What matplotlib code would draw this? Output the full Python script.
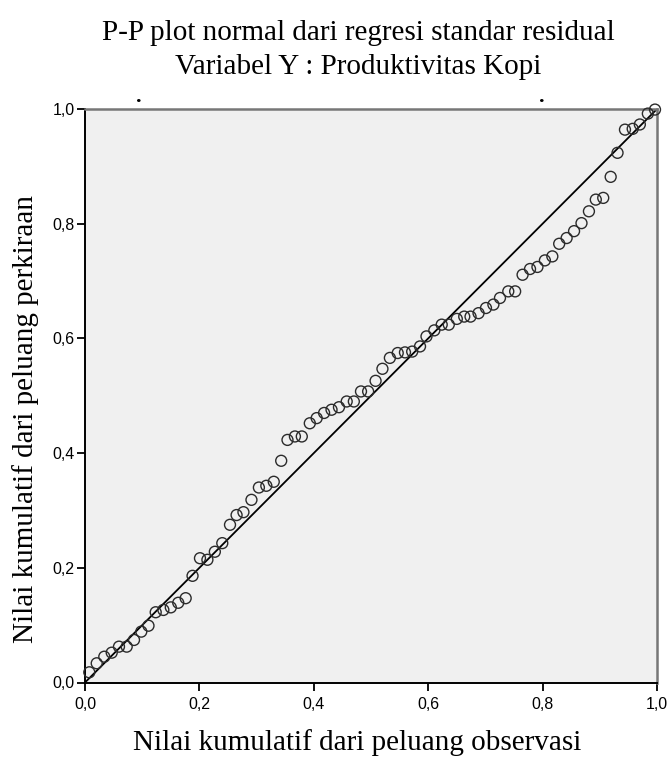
import matplotlib
matplotlib.use("Agg")
import matplotlib.pyplot as plt

# P-P plot: nilai kumulatif observasi (x) vs perkiraan (y)
obs_prob = [0.0075, 0.0205, 0.0337, 0.0467, 0.0594, 0.0729, 0.0857, 0.0984, 0.111, 0.1236,
            0.137, 0.150, 0.163, 0.176, 0.188, 0.201, 0.214, 0.227, 0.240, 0.2535,
            0.265, 0.277, 0.291, 0.304, 0.317, 0.330, 0.343, 0.354, 0.367, 0.379,
            0.393, 0.405, 0.418, 0.431, 0.444, 0.4575, 0.470, 0.4825, 0.495, 0.508,
            0.520, 0.533, 0.5467, 0.5594, 0.572, 0.5857, 0.597, 0.6107, 0.6236, 0.636,
            0.650, 0.663, 0.674, 0.688, 0.701, 0.714, 0.7255, 0.740, 0.752, 0.765,
            0.778, 0.791, 0.804, 0.817, 0.829, 0.842, 0.855, 0.868, 0.881, 0.893,
            0.906, 0.919, 0.931, 0.944, 0.9575, 0.970, 0.984, 0.9965]
exp_prob = [0.0178, 0.0335, 0.045, 0.052, 0.0625, 0.0625, 0.0742, 0.0887, 0.099, 0.1225,
            0.1265, 0.131, 0.139, 0.147, 0.186, 0.2167, 0.214, 0.228, 0.243, 0.275,
            0.292, 0.297, 0.3185, 0.340, 0.343, 0.350, 0.3866, 0.423, 0.429, 0.429,
            0.452, 0.461, 0.470, 0.4756, 0.480, 0.490, 0.490, 0.5075, 0.5075, 0.526,
            0.547, 0.566, 0.5745, 0.5756, 0.577, 0.586, 0.6035, 0.614, 0.624, 0.624,
            0.634, 0.638, 0.638, 0.644, 0.653, 0.659, 0.6705, 0.682, 0.682, 0.711,
            0.721, 0.7246, 0.736, 0.743, 0.765, 0.775, 0.787, 0.801, 0.8216, 0.842,
            0.845, 0.8817, 0.9236, 0.964, 0.9654, 0.973, 0.992, 0.999]
ticks = [0.0, 0.2, 0.4, 0.6, 0.8, 1.0]
tick_labels = ["0,0", "0,2", "0,4", "0,6", "0,8", "1,0"]

fig = plt.figure(figsize=(6.71, 7.58), dpi=100)
ax = fig.add_axes([85/671, 1 - 682.5/758, 572/671, 573.5/758])
ax.set_facecolor("#f0f0f0")

# garis diagonal referensi
ax.plot([0, 1], [0, 1], color="black", lw=1.3, zorder=2)
ax.scatter(obs_prob, exp_prob, s=62, facecolors="none", edgecolors="#2b2b2b",
           linewidths=1.0, zorder=3, clip_on=False)

ax.set_xlim(0, 1)
ax.set_ylim(0, 1)
ax.set_xticks(ticks)
ax.set_yticks(ticks)
ax.set_xticklabels(tick_labels, family="Liberation Sans", fontsize=11.5)
ax.set_yticklabels(tick_labels, family="Liberation Sans", fontsize=11.5)
ax.tick_params(direction="out", length=5.5, width=1.3, color="black")
ax.tick_params(axis="x", pad=5)
ax.tick_params(axis="y", pad=2)

for side in ["left", "bottom"]:
    ax.spines[side].set_color("black")
    ax.spines[side].set_linewidth(1.4)
for side in ["top", "right"]:
    ax.spines[side].set_color("#777777")
    ax.spines[side].set_linewidth(1.8)

fig.text(358/671, 1 - 33/758, "P-P plot normal dari regresi standar residual",
         family="Liberation Serif", fontsize=21, ha="center", va="center")
fig.text(358/671, 1 - 67/758, "Variabel Y : Produktivitas Kopi",
         family="Liberation Serif", fontsize=21, ha="center", va="center")
fig.text(357/671, 1 - 743/758, "Nilai kumulatif dari peluang observasi",
         family="Liberation Serif", fontsize=21, ha="center", va="center")
fig.text(26/671, 1 - 419/758, "Nilai kumulatif dari peluang perkiraan",
         family="Liberation Serif", fontsize=21, ha="center", va="center", rotation=90)

# titik kecil di atas plot
fig.text(139/671, 1 - 102/758, ".", family="Liberation Serif", fontsize=16, ha="center", va="baseline",
         fontweight="bold")
fig.text(542/671, 1 - 102/758, ".", family="Liberation Serif", fontsize=16, ha="center", va="baseline",
         fontweight="bold")

fig.savefig("out.png", dpi=100)
